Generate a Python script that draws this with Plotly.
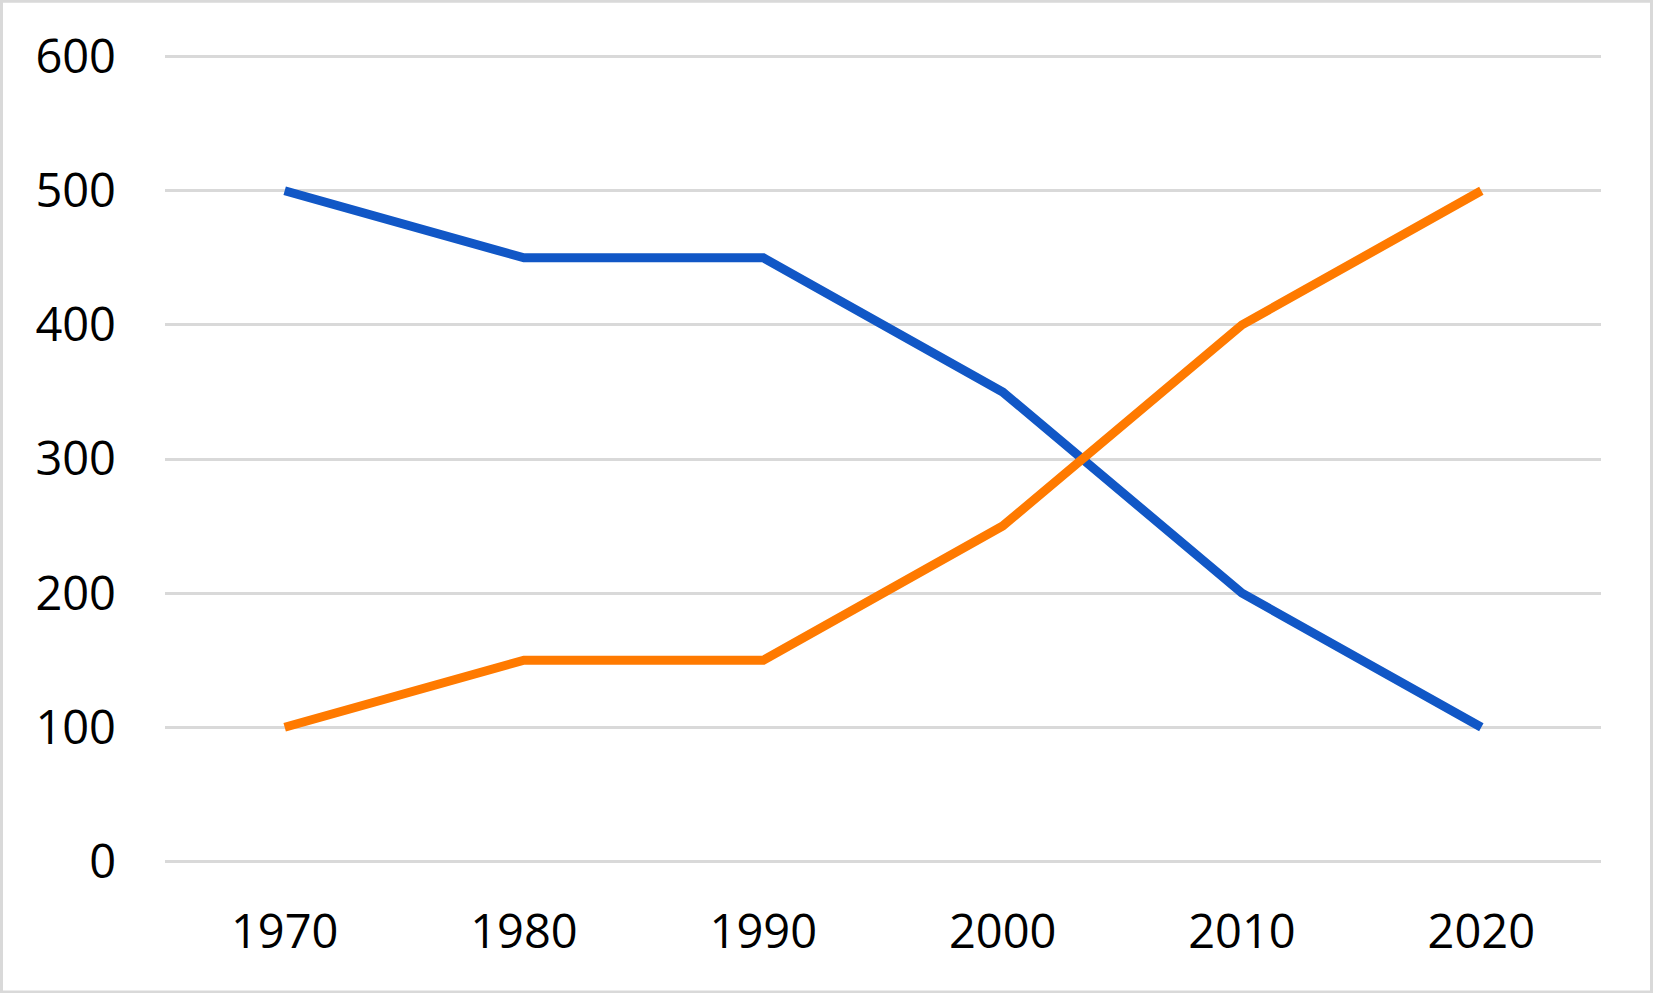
import plotly.graph_objects as go

years = ["1970", "1980", "1990", "2000", "2010", "2020"]
series_blue = [500, 450, 450, 350, 200, 100]
series_orange = [100, 150, 150, 250, 400, 500]
y_ticks = [0, 100, 200, 300, 400, 500, 600]

W, H = 1653, 993
px_per_unit = 134 / 100.0
pad = 2  # data units of headroom so end gridlines are drawn
ml, mr = 165, 52
mt = 57 - pad * px_per_unit
mb = 132 - pad * px_per_unit
pw, ph = W - ml - mr, H - mt - mb

fig = go.Figure()
fig.add_trace(go.Scatter(x=years, y=series_blue, mode="lines", name="Series 1",
                         line=dict(color="#1157C6", width=9)))
fig.add_trace(go.Scatter(x=years, y=series_orange, mode="lines", name="Series 2",
                         line=dict(color="#FF7A00", width=9)))

fig.update_layout(
    width=W, height=H,
    margin=dict(l=ml, r=mr, t=mt, b=mb),
    paper_bgcolor="white", plot_bgcolor="white",
    showlegend=False,
    font=dict(family="Open Sans, Noto Sans, sans-serif", size=47, color="#000000"),
)
fig.update_xaxes(type="category", range=[-0.5, 5.5], showgrid=False, showline=False,
                 zeroline=False, ticks="", ticklabelstandoff=36)
fig.update_yaxes(range=[-pad, 600 + pad], tickvals=y_ticks, showgrid=True, gridcolor="#D9D9D9",
                 gridwidth=2.5, zeroline=False, showline=False, ticks="",
                 ticklabelstandoff=48)

fig.add_shape(type="rect", xref="paper", yref="paper",
              x0=(1.5 - ml) / pw, x1=(W - 1.5 - ml) / pw,
              y0=(mt + ph - (H - 1.5)) / ph, y1=(mt + ph - 1.5) / ph,
              line=dict(color="#D9D9D9", width=3), layer="below")

fig.write_html("out.html")
